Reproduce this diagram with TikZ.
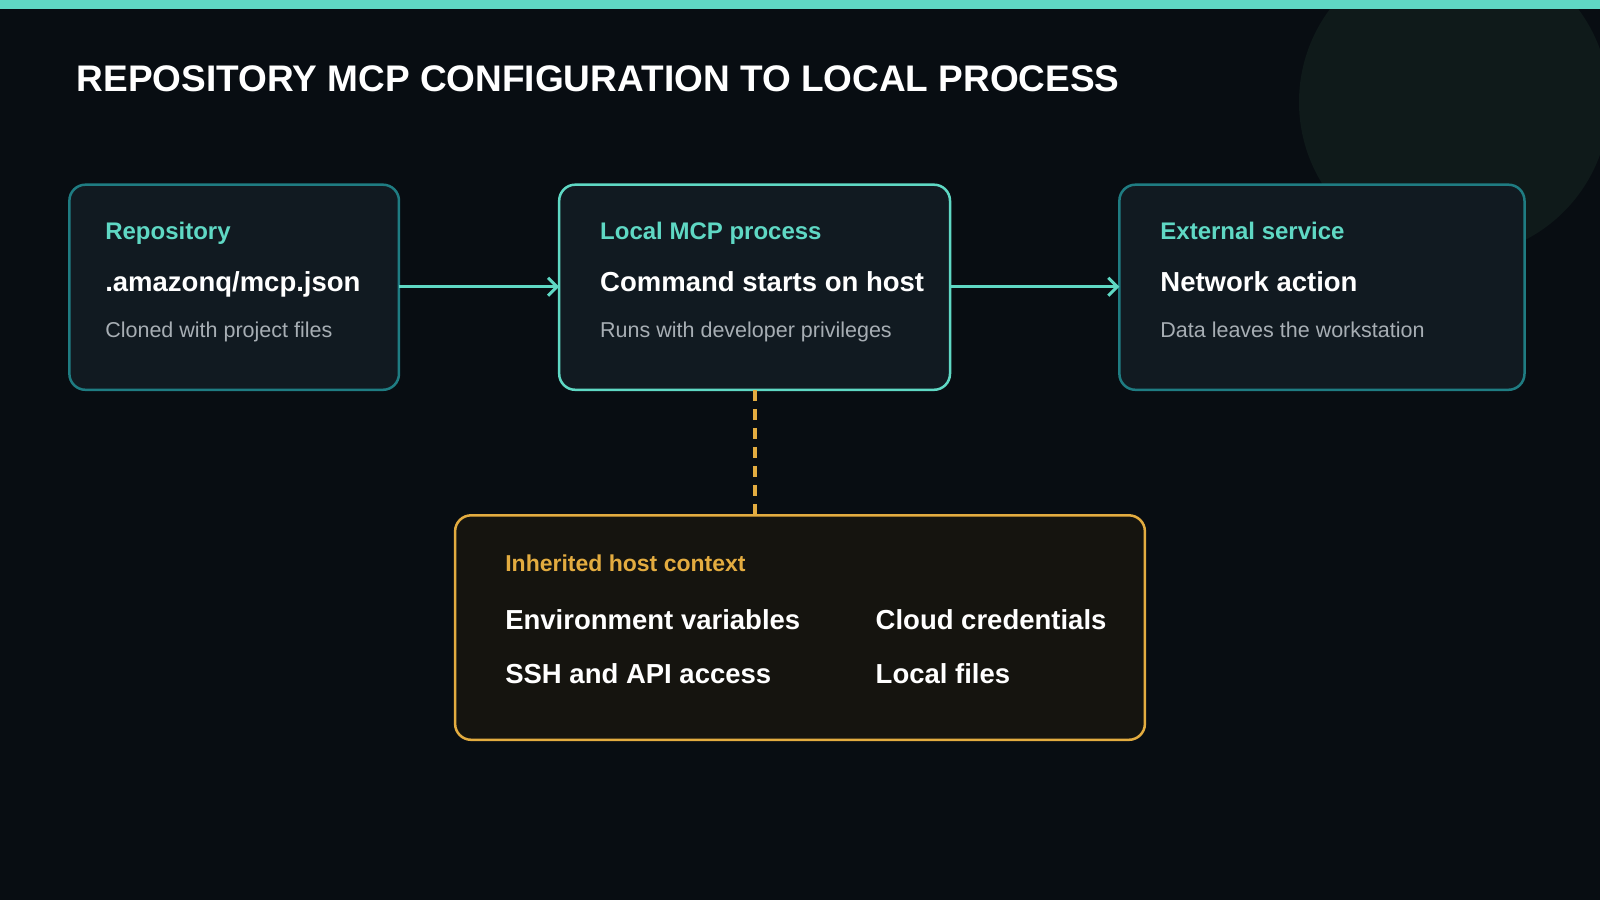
\documentclass[tikz,border=0pt]{standalone}
\usepackage{fontspec}
\setmainfont{Liberation Sans}
\usetikzlibrary{arrows.meta}
\definecolor{bg}{HTML}{080D12}
\definecolor{boxfill}{HTML}{111A21}
\definecolor{tealdark}{HTML}{1F7C82}
\definecolor{teal}{HTML}{5FD8C4}
\definecolor{ylw}{HTML}{E3AC40}
\definecolor{yfill}{HTML}{15140F}
\definecolor{gry}{HTML}{A7AEB4}
\definecolor{circ}{HTML}{0F1A1A}
\tikzset{
 card/.style={draw=tealdark,line width=2.5pt,fill=boxfill,rounded corners=16pt},
 hd/.style={anchor=base west,font=\fontsize{24}{28}\selectfont\bfseries,text=teal,inner sep=0},
 mn/.style={anchor=base west,font=\fontsize{27.5}{32}\selectfont\bfseries,text=white,inner sep=0},
 sb/.style={anchor=base west,font=\fontsize{21.5}{26}\selectfont,text=gry,inner sep=0},
 conn/.style={draw=teal,line width=3.5pt,-{Straight Barb[length=9pt,width=18pt,line width=3pt]}},
}
\begin{document}
\begin{tikzpicture}[x=1.0204pt,y=-1.0204pt]
\fill[bg] (0,0) rectangle (1568,882);
\useasboundingbox (0,0) rectangle (1568,882);
\begin{scope}
\clip (0,0) rectangle (1568,882);
\fill[circ] (1425,100) circle (152);
\end{scope}
\fill[teal] (0,0) rectangle (1568,9);
\node[anchor=base west,inner sep=0,text=white,font=\fontsize{37}{40}\selectfont\bfseries] (title) at (75,90) {REPOSITORY MCP CONFIGURATION TO LOCAL PROCESS};

\draw[card] (68,181) rectangle (391,382);
\coordinate (rE) at (391,281);
\node[hd] (rh) at (103,235) {Repository};
\node[mn] (rm) at (103,286) {.amazonq/mcp.json};
\node[sb] (rs) at (103,331) {Cloned with project files};

\draw[card,draw=teal] (548,181) rectangle (931,382);
\coordinate (lW) at (548,281);
\coordinate (lE) at (931,281);
\coordinate (lS) at (740,382);
\node[hd] (lh) at (588,235) {Local MCP process};
\node[mn] (lm) at (588,286) {Command starts on host};
\node[sb] (ls) at (588,331) {Runs with developer privileges};

\draw[card] (1097,181) rectangle (1494,382);
\coordinate (eW) at (1097,281);
\node[hd] (eh) at (1137,235) {External service};
\node[mn] (em) at (1137,286) {Network action};
\node[sb] (es) at (1137,331) {Data leaves the workstation};

\draw[card,draw=ylw,fill=yfill] (446,505) rectangle (1122,725);
\coordinate (iN) at (740,505);
\node[hd,text=ylw,font=\fontsize{23}{28}\selectfont\bfseries] (ih) at (495,560) {Inherited host context};
\node[mn] (i1) at (495,617) {Environment variables};
\node[mn] (i2) at (858,617) {Cloud credentials};
\node[mn] (i3) at (495,670) {SSH and API access};
\node[mn] (i4) at (858,670) {Local files};

\draw[conn] (rE) -- (lW);
\draw[conn] (lE) -- (eW);
\draw[ylw,line width=3.5pt,dash pattern=on 11pt off 8pt] (lS) -- (iN);
\end{tikzpicture}
\end{document}
